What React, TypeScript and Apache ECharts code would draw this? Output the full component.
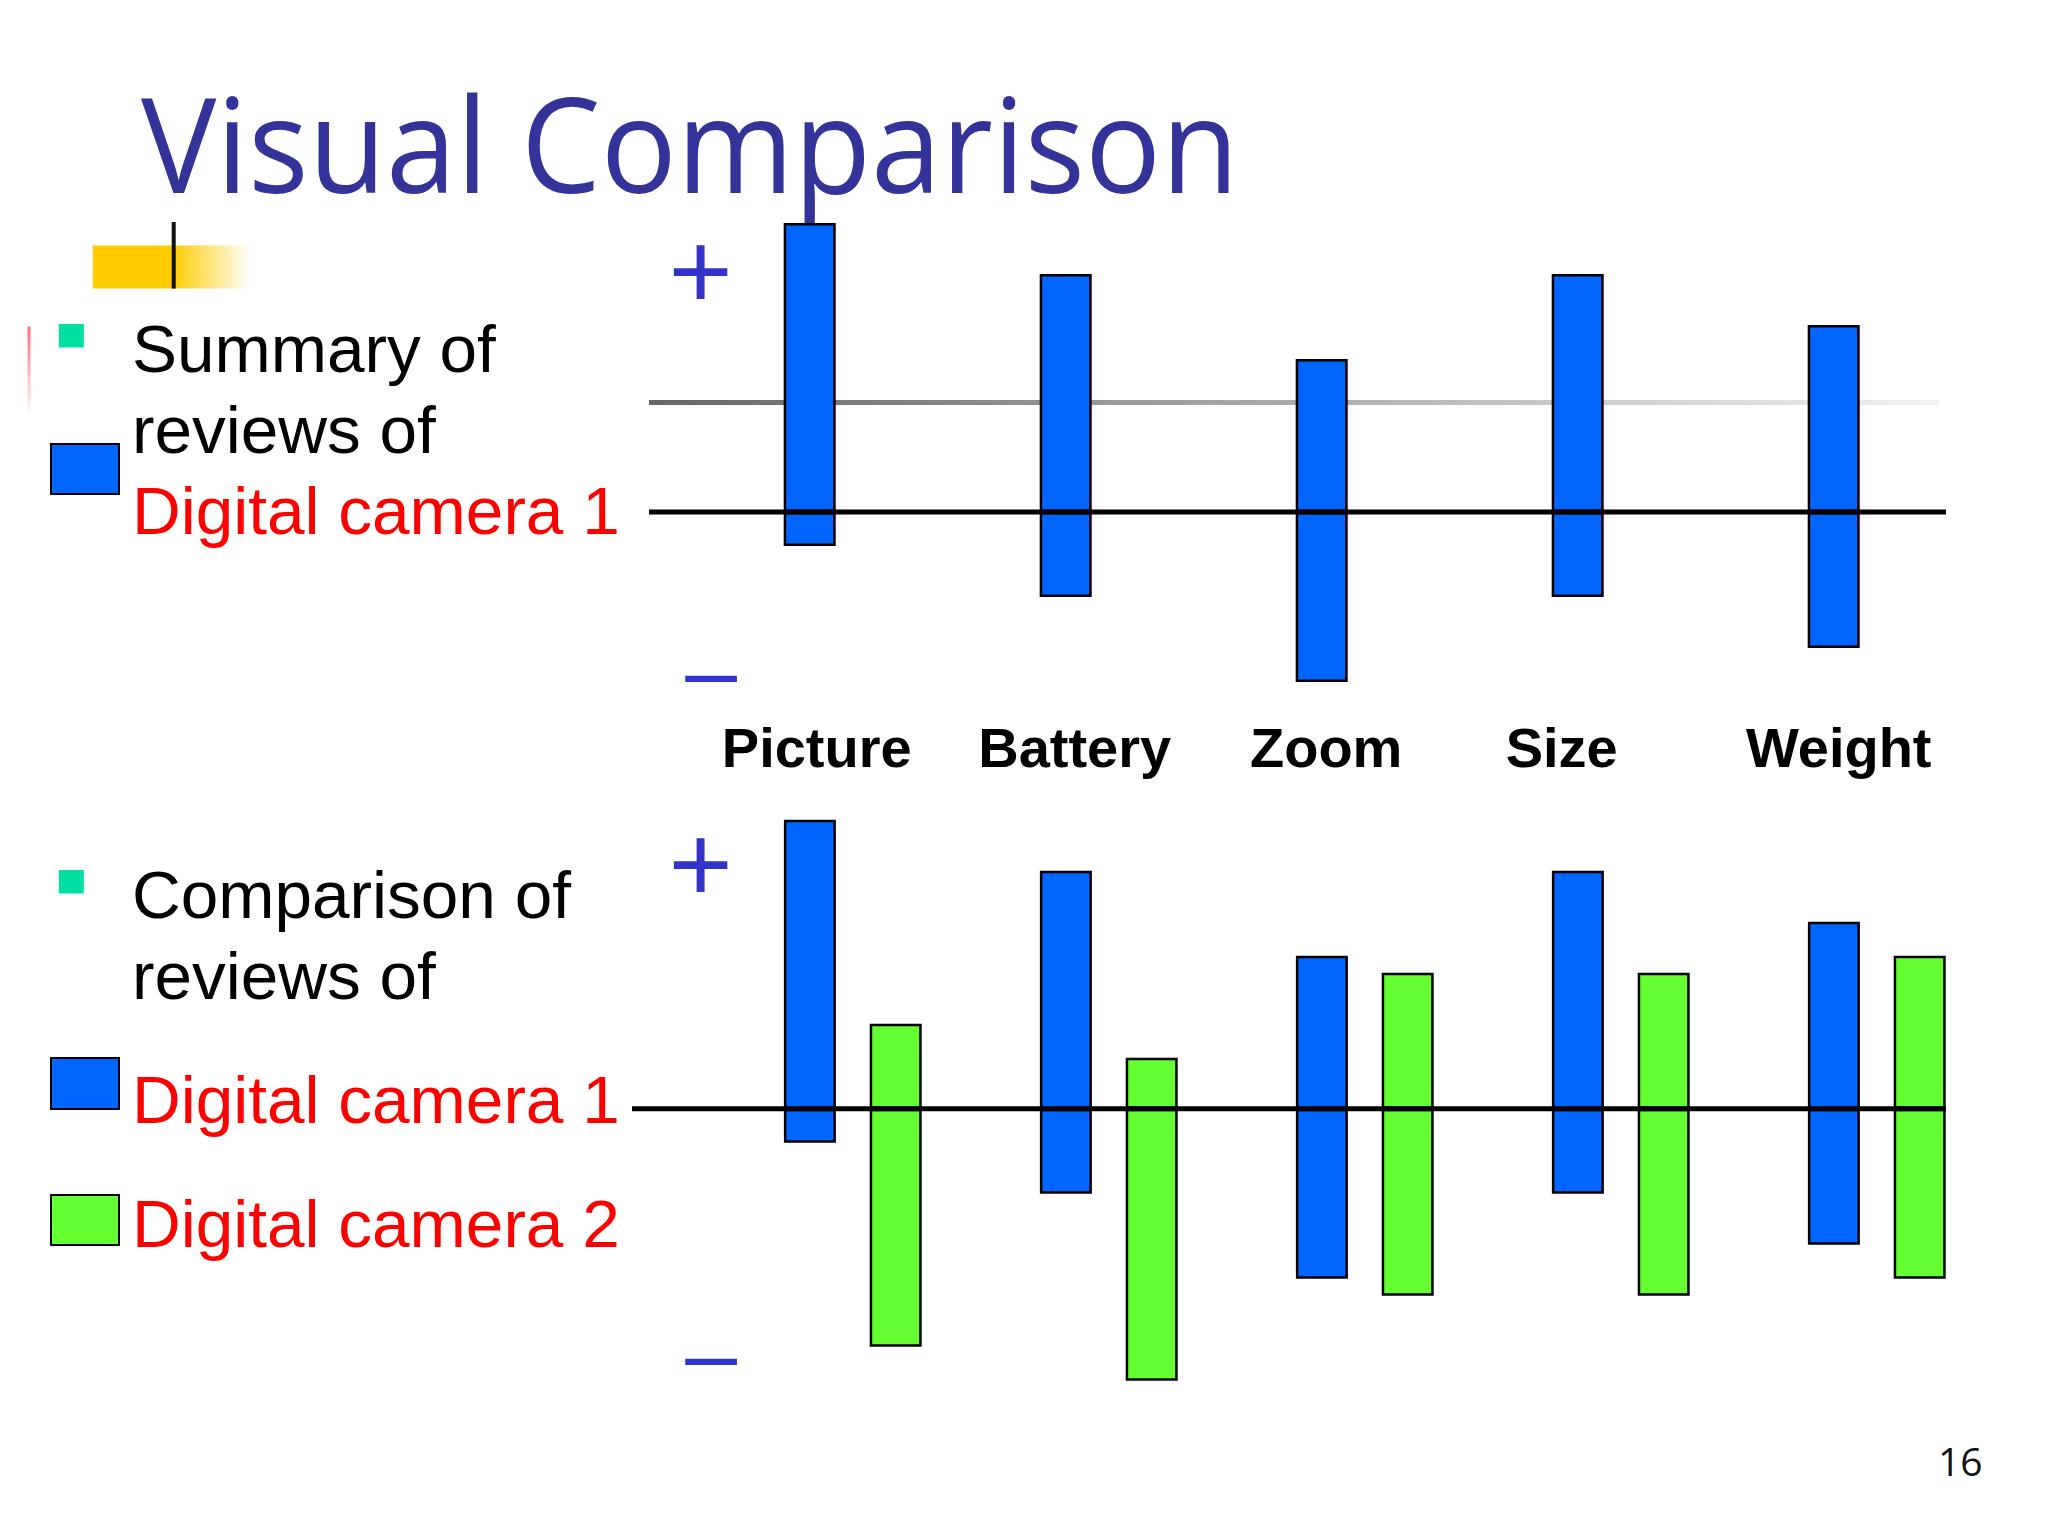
import { useEffect, useRef } from 'react';
import * as echarts from 'echarts';

// features that were reviewed
const categories = ['Picture', 'Battery', 'Zoom', 'Size', 'Weight'];
// review polarity per feature: positive share above zero, negative below
const camera1Positive = [17, 14, 9, 14, 11];
const camera1Negative = [-2, -5, -10, -5, -8];
const camera2Positive = [5, 3, 8, 8, 9];
const camera2Negative = [-14, -16, -11, -11, -10];

const BLUE = '#0066FF';
const GREEN = '#66FF33';
const RED = '#FF0000';
const NAVY = '#333399';
const SIGN = '#3333CC';
const TEAL = '#00E0A0';
const SANS = '"Liberation Sans", Arial, sans-serif';
const OPEN = '"Open Sans", sans-serif';

const UNIT = 17; // px per score unit
const BAND = 256; // px per category
const BAR_W = 52;

const barStyle = (color: string) => ({
  color,
  borderColor: '#000',
  borderWidth: 2.5
});

const label = (text: string, x: number, y: number, fontSize: number, fill: string, extra = {}) => ({
  type: 'text',
  x,
  y,
  z: 10,
  style: { text, fontSize, fontFamily: SANS, fill, verticalAlign: 'middle', ...extra }
});

const App: React.FC = () => {
  const chartRef = useRef<HTMLDivElement>(null);

  useEffect(() => {
    if (!chartRef.current) return;
    const chart = echarts.init(chartRef.current, undefined, { renderer: 'svg' });

    chart.setOption({
      animation: false,
      grid: [
        { left: 681.7, top: 512 - 18 * UNIT, width: BAND * 5, height: 30 * UNIT },
        { left: 724.8, top: 1108.8 - 18 * UNIT, width: BAND * 5, height: 36 * UNIT }
      ],
      xAxis: [
        {
          type: 'category',
          gridIndex: 0,
          data: categories,
          axisLine: { show: false },
          axisTick: { show: false },
          splitLine: { show: false },
          axisLabel: {
            interval: 0,
            hideOverlap: false,
            margin: 3,
            color: '#000',
            fontSize: 56,
            fontWeight: 'bold',
            fontFamily: SANS,
            // nudge the words a little, as they sit on the slide
            formatter: (v: string) => `{${v}|${v}}`,
            rich: {
              Picture: { padding: [0, 0, 0, 14] },
              Battery: { padding: [0, 0, 0, 18] },
              Zoom: { padding: [0, 0, 0, 9] },
              Size: { padding: [0, 32, 0, 0] },
              Weight: { padding: [0, 0, 0, 10] }
            }
          }
        },
        {
          type: 'category',
          gridIndex: 1,
          data: categories,
          axisLine: { show: false },
          axisTick: { show: false },
          splitLine: { show: false },
          axisLabel: { show: false }
        }
      ],
      yAxis: [
        { type: 'value', gridIndex: 0, min: -12, max: 18, show: false },
        { type: 'value', gridIndex: 1, min: -18, max: 18, show: false }
      ],
      series: [
        { type: 'bar', xAxisIndex: 0, yAxisIndex: 0, stack: 'summary', barWidth: BAR_W, data: camera1Positive, itemStyle: barStyle(BLUE) },
        { type: 'bar', xAxisIndex: 0, yAxisIndex: 0, stack: 'summary', barWidth: BAR_W, data: camera1Negative, itemStyle: barStyle(BLUE) },
        { type: 'bar', xAxisIndex: 1, yAxisIndex: 1, stack: 'cam1', barWidth: BAR_W, data: camera1Positive, itemStyle: barStyle(BLUE) },
        { type: 'bar', xAxisIndex: 1, yAxisIndex: 1, stack: 'cam1', barWidth: BAR_W, data: camera1Negative, itemStyle: barStyle(BLUE) },
        { type: 'bar', xAxisIndex: 1, yAxisIndex: 1, stack: 'cam2', barWidth: BAR_W, barGap: '65%', data: camera2Positive, itemStyle: barStyle(GREEN) },
        { type: 'bar', xAxisIndex: 1, yAxisIndex: 1, stack: 'cam2', barWidth: BAR_W, barGap: '65%', data: camera2Negative, itemStyle: barStyle(GREEN) }
      ]
    });

    // zero lines sit where the value axes put 0
    const zero1 = chart.convertToPixel({ gridIndex: 0 }, [0, 0])[1];
    const zero2 = chart.convertToPixel({ gridIndex: 1 }, [0, 0])[1];

    chart.setOption({
      graphic: [
        // title
        {
          type: 'text',
          x: 141,
          y: 142.5,
          scaleX: 0.965,
          style: { text: 'Visual Comparison', fontSize: 131, fontFamily: OPEN, fill: NAVY, verticalAlign: 'middle' }
        },
        // template ornaments
        {
          type: 'rect',
          shape: { x: 92.7, y: 245.5, width: 158, height: 43 },
          style: {
            fill: new echarts.graphic.LinearGradient(0, 0, 1, 0, [
              { offset: 0, color: '#FFCC00' },
              { offset: 0.5, color: '#FFCC00' },
              { offset: 1, color: 'rgba(255,204,0,0)' }
            ])
          }
        },
        { type: 'rect', shape: { x: 171.7, y: 222, width: 4, height: 66.6 }, style: { fill: '#111' } },
        {
          type: 'rect',
          shape: { x: 27.5, y: 326.5, width: 3, height: 91 },
          style: {
            fill: new echarts.graphic.LinearGradient(0, 0, 0, 1, [
              { offset: 0, color: '#FF7070' },
              { offset: 1, color: 'rgba(255,112,112,0)' }
            ])
          }
        },
        {
          type: 'rect',
          shape: { x: 649, y: 400, width: 1290, height: 5 },
          style: {
            fill: new echarts.graphic.LinearGradient(0, 0, 1, 0, [
              { offset: 0, color: '#666666' },
              { offset: 1, color: '#F2F2F2' }
            ])
          }
        },
        // bullets and legend swatches
        { type: 'rect', shape: { x: 58.8, y: 324, width: 25, height: 23.5 }, style: { fill: TEAL } },
        { type: 'rect', shape: { x: 58.8, y: 870, width: 25, height: 23.5 }, style: { fill: TEAL } },
        { type: 'rect', shape: { x: 51, y: 444, width: 68, height: 50 }, style: { fill: BLUE, stroke: '#000', lineWidth: 2 } },
        { type: 'rect', shape: { x: 51, y: 1058, width: 68, height: 51 }, style: { fill: BLUE, stroke: '#000', lineWidth: 2 } },
        { type: 'rect', shape: { x: 51, y: 1195, width: 68, height: 50 }, style: { fill: GREEN, stroke: '#000', lineWidth: 2 } },
        // left-hand text
        label('Summary of', 132, 348.8, 67.5, '#000'),
        label('reviews of', 132, 429.8, 67.5, '#000'),
        label('Digital camera 1', 132, 510.8, 67.5, RED),
        label('Comparison of', 132, 894.7, 67.5, '#000'),
        label('reviews of', 132, 975.7, 67.5, '#000'),
        label('Digital camera 1', 132, 1099.8, 67.5, RED),
        label('Digital camera 2', 132, 1223.8, 67.5, RED),
        // polarity signs
        label('+', 700.7, 270.5, 110, SIGN, { align: 'center' }),
        label('–', 711, 670, 93, SIGN, { align: 'center' }),
        label('+', 700.7, 863.3, 110, SIGN, { align: 'center' }),
        label('–', 711, 1353, 93, SIGN, { align: 'center' }),
        // zero lines
        { type: 'line', z: 50, shape: { x1: 649, y1: zero1, x2: 1946, y2: zero1 }, style: { stroke: '#000', lineWidth: 5 } },
        { type: 'line', z: 50, shape: { x1: 632, y1: zero2, x2: 1946, y2: zero2 }, style: { stroke: '#000', lineWidth: 5 } },
        // page number
        {
          type: 'text',
          x: 1982.5,
          y: 1460.3,
          style: { text: '16', fontSize: 39, fontFamily: OPEN, fill: '#111', align: 'right', verticalAlign: 'middle' }
        }
      ]
    });

    return () => {
      chart.dispose();
    };
  }, []);

  return (
    <div
      ref={chartRef}
      style={{ position: 'absolute', left: 0, top: 0, width: '2048px', height: '1536px', background: '#fff' }}
    />
  );
};

export default App;
